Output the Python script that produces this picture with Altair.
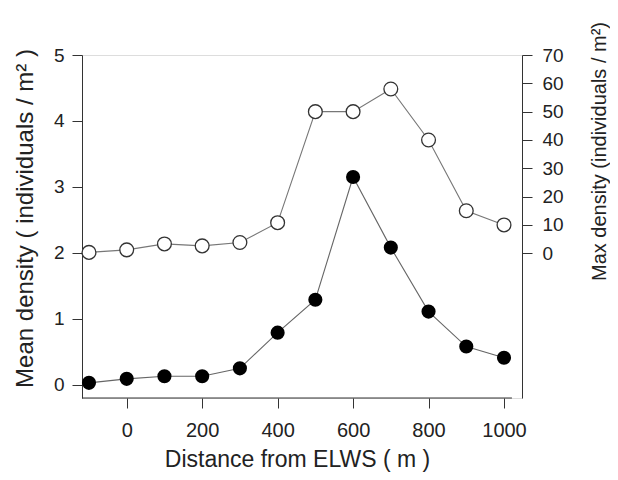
import altair as alt
import pandas as pd

distance = [-100, 0, 100, 200, 300, 400, 500, 600, 700, 800, 900, 1000]
mean_density = [0.03, 0.09, 0.13, 0.13, 0.25, 0.79, 1.29, 3.15, 2.08, 1.11, 0.58, 0.41]
max_density = [0.3, 1.2, 3.3, 2.6, 3.8, 10.8, 50.0, 50.0, 58.0, 40.0, 15.0, 10.0]

df = pd.DataFrame({"d": distance, "mean": mean_density, "max": max_density})

FONT = "Liberation Sans"
xdom = [-118.5, 1047.7]
ldom = [-0.2, 5]
rdom = [-51.1, 70]

x = alt.X("d:Q", scale=alt.Scale(domain=xdom, nice=False, zero=False),
          axis=alt.Axis(values=[0, 200, 400, 600, 800, 1000], format="d", domain=False, grid=False,
                        tickSize=10, labelPadding=12, labelFontSize=20, labelFont=FONT,
                        labelColor="#222", tickColor="#333",
                        title="Distance from ELWS ( m )", titleFont=FONT, titleFontSize=23,
                        titleFontWeight="normal", titleColor="#222",
                        titleX=215, titleY=61, titleBaseline="middle"))

yl = alt.Y("mean:Q", scale=alt.Scale(domain=ldom, nice=False, zero=False),
           axis=alt.Axis(values=[0, 1, 2, 3, 4, 5], format="d", grid=False, tickSize=10, labelPadding=8,
                         labelFontSize=19, labelFont=FONT, labelColor="#222",
                         domainColor="#333", tickColor="#333",
                         title="Mean density ( individuals / m² )", titleFont=FONT,
                         titleFontSize=24, titleFontWeight="normal", titleColor="#222",
                         titleAngle=-90, titleX=-57, titleY=163, titleAlign="center",
                         titleBaseline="middle"))

yr = alt.Y("max:Q", scale=alt.Scale(domain=rdom, nice=False, zero=False),
           axis=alt.Axis(orient="right", values=[0, 10, 20, 30, 40, 50, 60, 70], format="d", grid=False,
                         tickSize=10, labelPadding=10, labelFontSize=19, labelFont=FONT,
                         labelColor="#222", domainColor="#333", tickColor="#333",
                         title="Max density (individuals / m²)", titleFont=FONT,
                         titleFontSize=20, titleFontWeight="normal", titleColor="#222",
                         titleAngle=-90, titleX=77, titleY=96, titleAlign="center",
                         titleBaseline="middle"))

base = alt.Chart(df)

line_mean = base.mark_line(color="#666", strokeWidth=1.1).encode(x=x, y=yl)
pts_mean = base.mark_point(shape="circle", filled=True, color="#000", size=200, opacity=1).encode(x=x, y=yl)

axis_df = pd.DataFrame({"x0": [-118.5], "x1": [1021], "y0": [-0.2]})
xline = alt.Chart(axis_df).mark_rule(color="#333", strokeWidth=1).encode(
    x=alt.X("x0:Q", scale=alt.Scale(domain=xdom, nice=False, zero=False)),
    x2="x1:Q",
    y=alt.Y("y0:Q", scale=alt.Scale(domain=ldom, nice=False, zero=False)))

line_max = base.mark_line(color="#777", strokeWidth=1.1).encode(x=x, y=yr)
pts_max = base.mark_point(shape="circle", filled=True, fill="white", stroke="#333",
                          strokeWidth=1.3, size=190, opacity=1).encode(x=x, y=yr)

left = alt.layer(line_mean, xline, pts_mean)
right = alt.layer(line_max, pts_max)

chart = alt.layer(left, right).resolve_scale(y="independent").properties(
    width=440, height=343,
    autosize=alt.AutoSizeParams(type="none"),
    padding={"left": 74, "top": 47, "right": 88, "bottom": 74},
).configure_view(stroke=None).configure(background="white")

chart.save("out.html", embed_options={"renderer": "svg", "actions": False})
